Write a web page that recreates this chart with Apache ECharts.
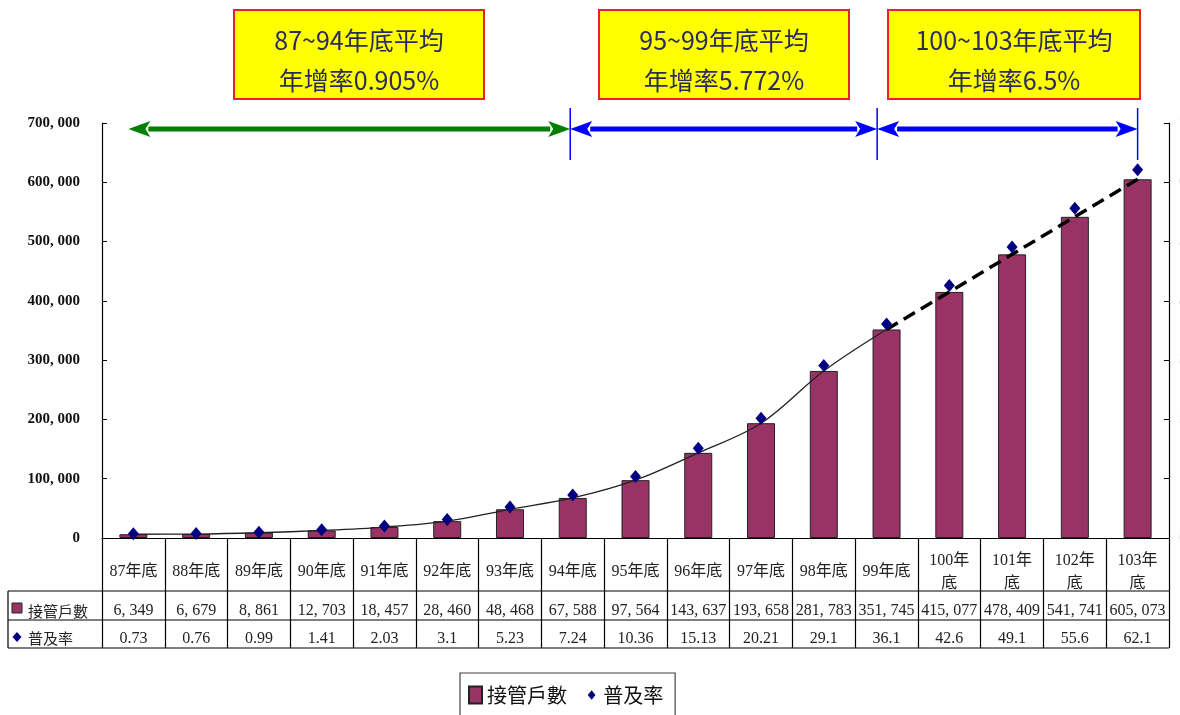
<!DOCTYPE html>
<html><head><meta charset="utf-8">
<script src="https://cdn.jsdelivr.net/npm/echarts@6/dist/echarts.min.js"></script>
<style>html,body{margin:0;padding:0;background:#fff}#c{width:1180px;height:715px}</style>
</head><body><div id="c"></div>
<script>
// ---- data ----
const categories = ['87年底','88年底','89年底','90年底','91年底','92年底','93年底','94年底','95年底','96年底','97年底','98年底','99年底','100年底','101年底','102年底','103年底'];
const households = [6349,6679,8861,12703,18457,28460,48468,67588,97564,143637,193658,281783,351745,415077,478409,541741,605073];
const coverage = [0.73,0.76,0.99,1.41,2.03,3.1,5.23,7.24,10.36,15.13,20.21,29.1,36.1,42.6,49.1,55.6,62.1];
const leftAxis = {min:0, max:700000, interval:100000};
const rightAxis = {min:0, max:70, interval:10};
const dashStartIndex = 12; // trend becomes dashed from 99年底
const periodStops = [-0.08, 6.96, 11.85, 16];
const periodColors = ['#008000','#0000ff','#0000ff'];
const periodLine1 = ['87~94年底平均','95~99年底平均','100~103年底平均'];
const periodLine2 = ['年增率0.905%','年增率5.772%','年增率6.5%'];
const seriesNames = ['接管戶數','普及率'];

const SERIF = '"Liberation Serif","Noto Sans CJK TC",serif';
const CJK = '"Noto Sans CJK TC","Liberation Serif",sans-serif';
const fmtNum = v => v.toLocaleString('en-US').replace(/,/g, ', ');
const wrapCat = s => s.length > 4 ? s.slice(0, s.length - 1) + '\n' + s.slice(-1) : s;

const solidTrend = households.map((v,i) => i <= dashStartIndex ? v : null);
const dashTrend = households.map((v,i) => i >= dashStartIndex ? v : null);

const chart = echarts.init(document.getElementById('c'));
const option = {
  animation: false,
  backgroundColor: '#fff',
  grid: {left: 102, right: 11, top: 123, bottom: 177, containLabel: false, outerBoundsMode: 'none'},
  legend: {
    data: [{name: seriesNames[0], icon: 'rect'}, {name: seriesNames[1], icon: 'path://M6,5 L11,11 L6,17 L1,11 Z M0,0 L0,0.01 M12,22 L12,22.01'}],
    left: 460, top: 673, padding: [12, 12, 12, 8],
    borderColor: '#444', borderWidth: 1.2,
    itemWidth: 13, itemHeight: 17, itemGap: 20,
    textStyle: {fontFamily: CJK, fontSize: 20, color: '#111'}
  },
  xAxis: [
    {type:'category', data: categories, gridIndex:0,
     axisLine:{show:true, lineStyle:{color:'#000', width:1.2}},
     axisTick:{show:true, length:110, lineStyle:{color:'#000', width:1.2}},
     axisLabel:{interval:0, margin:34, verticalAlign:'middle', lineHeight:23, color:'#222', fontFamily: SERIF, fontSize:16, formatter: wrapCat}},
    {type:'category', data: categories, position:'bottom', offset:53,
     axisLine:{show:false}, axisTick:{show:false},
     axisLabel:{interval:0, margin:20, verticalAlign:'middle', color:'#222', fontFamily: SERIF, fontSize:16,
       formatter:(v,i)=>fmtNum(households[i])}},
    {type:'category', data: categories, position:'bottom', offset:82,
     axisLine:{show:false}, axisTick:{show:false},
     axisLabel:{interval:0, margin:19, verticalAlign:'middle', color:'#222', fontFamily: SERIF, fontSize:16,
       formatter:(v,i)=>String(coverage[i])}}
  ],
  yAxis: [
    {type:'value', min:leftAxis.min, max:leftAxis.max, interval:leftAxis.interval,
     axisLine:{show:true, lineStyle:{color:'#000', width:1.2}},
     axisTick:{show:true, inside:true, length:5, lineStyle:{color:'#000'}},
     splitLine:{show:false},
     axisLabel:{margin:22, color:'#111', fontFamily: SERIF, fontWeight:'bold', fontSize:15, formatter: v => fmtNum(v)}},
    {type:'value', min:rightAxis.min, max:rightAxis.max, interval:rightAxis.interval,
     axisLine:{show:true, lineStyle:{color:'#000', width:1.2}},
     axisTick:{show:true, inside:true, length:5, lineStyle:{color:'#000'}},
     splitLine:{show:false},
     axisLabel:{margin:10, color:'#ccc', fontFamily: SERIF, fontWeight:'bold', fontSize:15}}
  ],
  series: [
    {name: seriesNames[0], type:'bar', data: households, barWidth: 28, xAxisIndex:0, yAxisIndex:0,
     itemStyle:{color:'#993366', borderColor:'#222', borderWidth:1}, z:2},
    {name:'trendSolid', type:'line', data: solidTrend, smooth:0.35, symbol:'none', yAxisIndex:0,
     lineStyle:{color:'#222', width:1.3}, z:3, silent:true},
    {name:'trendDash', type:'line', data: dashTrend, symbol:'none', yAxisIndex:0,
     lineStyle:{color:'#000', width:3.5, type:[13,7]}, z:3, silent:true},
    {name: seriesNames[1], type:'scatter', data: coverage, yAxisIndex:1, symbol:'diamond', symbolSize:[11,13],
     itemStyle:{color:'#000080', opacity:1}, z:5}
  ]
};
chart.setOption(option);

// ---- overlay graphics (table frame, annotations, arrows) ----
const x0 = chart.convertToPixel({xAxisIndex:0}, 0);
const x1 = chart.convertToPixel({xAxisIndex:0}, 1);
const step = x1 - x0;
const px = i => x0 + i * step;
const gridRight = 1180 - 11;
const tableLeft = 8;
const rowY = [591, 620, 648];
const g = [];
rowY.forEach(y => g.push({type:'line', shape:{x1:tableLeft, y1:y, x2:gridRight, y2:y}, style:{stroke:'#000', lineWidth:1.2}}));
g.push({type:'line', shape:{x1:tableLeft, y1:rowY[0], x2:tableLeft, y2:rowY[2]}, style:{stroke:'#000', lineWidth:1.2}});
// header cells
g.push({type:'rect', shape:{x:12, y:603, width:10, height:10}, style:{fill:'#993366', stroke:'#222', lineWidth:1}});
g.push({type:'text', x:28, y:611, style:{text:seriesNames[0], font:'15px ' + CJK, fill:'#222', textVerticalAlign:'middle'}});
g.push({type:'polygon', shape:{points:[[17,632],[21.5,637],[17,642],[12.5,637]]}, style:{fill:'#000080'}});
g.push({type:'text', x:28, y:638, style:{text:seriesNames[1], font:'15px ' + CJK, fill:'#222', textVerticalAlign:'middle'}});

// annotation boxes
const boxes = [[234,10,250,89],[599,10,250,89],[888,10,252,89]];
boxes.forEach((b,k) => {
  g.push({type:'rect', shape:{x:b[0], y:b[1], width:b[2], height:b[3]}, style:{fill:'#ffff00', stroke:'#e8202a', lineWidth:2}});
  g.push({type:'text', x:b[0]+b[2]/2, y:40, style:{text:periodLine1[k], font:'25px ' + CJK, fill:'#2b2b5c', textAlign:'center', textVerticalAlign:'middle'}});
  g.push({type:'text', x:b[0]+b[2]/2, y:80, style:{text:periodLine2[k], font:'25px ' + CJK, fill:'#2b2b5c', textAlign:'center', textVerticalAlign:'middle'}});
});

// arrows
const ay = 129, head = 22, hh = 8;
for (let k = 0; k < periodStops.length - 1; k++) {
  const a = px(periodStops[k]), b = px(periodStops[k+1]), c = periodColors[k];
  g.push({type:'line', shape:{x1:a+head-2, y1:ay, x2:b-head+2, y2:ay}, style:{stroke:c, lineWidth:5}});
  g.push({type:'polygon', shape:{points:[[a,ay],[a+head,ay-hh],[a+head-5,ay],[a+head,ay+hh]]}, style:{fill:c}});
  g.push({type:'polygon', shape:{points:[[b,ay],[b-head,ay-hh],[b-head+5,ay],[b-head,ay+hh]]}, style:{fill:c}});
}
periodStops.slice(1).forEach(s => {
  const x = px(s);
  g.push({type:'line', shape:{x1:x, y1:108, x2:x, y2:160}, style:{stroke:'#0000ff', lineWidth:1.5}, z:10});
});
chart.setOption({graphic: g});
</script>
</body></html>
